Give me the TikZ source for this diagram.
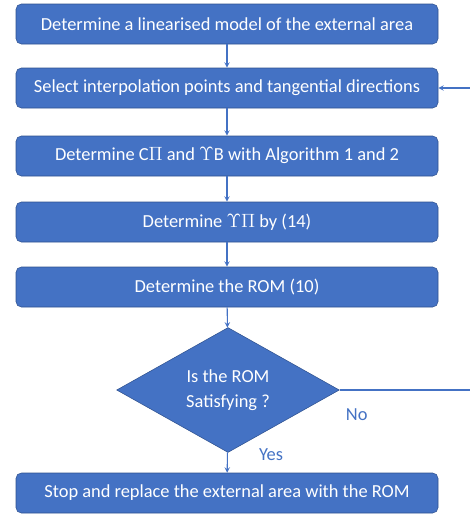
\documentclass[tikz,border=0pt]{standalone}
\usepackage{fontspec}
\setmainfont{Carlito}
\usepackage{tikz}
\usetikzlibrary{shapes.geometric,arrows,positioning}

\definecolor{officeblue}{HTML}{4472C4}
\definecolor{officeedge}{HTML}{2F528F}

\begin{document}
\begin{tikzpicture}[
    x=0.75pt, y=-0.75pt,
    stepbox/.style={rectangle, rounded corners=4pt, draw=officeedge, fill=officeblue, text=white,
        minimum width=316.5pt, minimum height=30pt, font=\fontsize{13.8}{16}\selectfont},
    question/.style={diamond, draw=officeedge, fill=officeblue, text=white, inner sep=0pt,
        minimum width=167pt, minimum height=87pt, align=center, font=\fontsize{13.8}{19}\selectfont},
    edge/.style={->, >=stealth, draw=officeblue, line width=0.8pt},
    answer/.style={text=officeblue, font=\fontsize{13.8}{16}\selectfont}
]
\useasboundingbox (0,0) rectangle (469,518);

% Steps
\node[stepbox] (s1) at (227,24) {Determine a linearised model of the external area};
\node[stepbox] (s2) at (227,88) {Select interpolation points and tangential directions};
\node[stepbox] (s3) at (227,156) {Determine C$\Pi$ and $\Upsilon$B with Algorithm 1 and 2};
\node[stepbox] (s4) at (227,222) {Determine $\Upsilon\Pi$ by (14)};
\node[stepbox] (s5) at (227,287) {Determine the ROM (10)};

% Decision
\node[question] (q) at (228,390) {Is the ROM\\Satisfying ?};

% Final step
\node[stepbox] (s6) at (227,493) {Stop and replace the external area with the ROM};

% Loop back corner points
\coordinate (r1) at (471,390);
\coordinate (r2) at (471,88);

% Edges
\draw[edge] (s1) -- (s2);
\draw[edge] (s2) -- (s3);
\draw[edge] (s3) -- (s4);
\draw[edge] (s4) -- (s5);
\draw[edge] (s5) -- (q);
\draw[edge] (q) -- node[answer, pos=0.1, right=20pt] (yes) {Yes} (s6);
\draw[edge] (q.east) -- node[answer, pos=0.13, below=10pt] (no) {No} (r1) -- (r2) -- (s2);

\end{tikzpicture}
\end{document}
